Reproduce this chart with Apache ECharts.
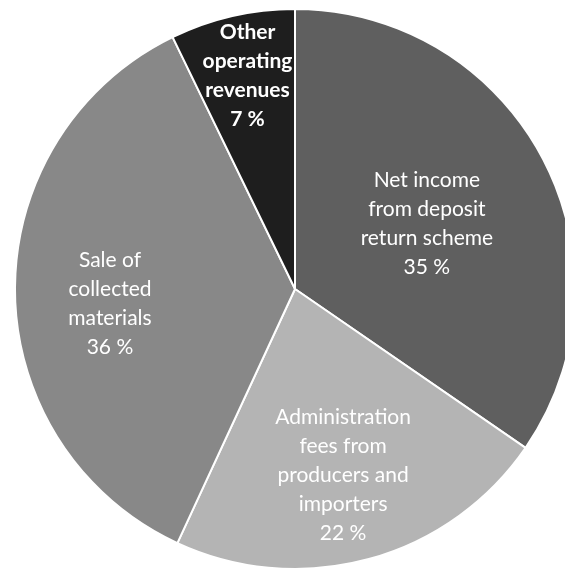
<!DOCTYPE html>
<html>
<head>
<meta charset="utf-8">
<script src="https://cdn.jsdelivr.net/npm/echarts@6/dist/echarts.min.js"></script>
<style>
  html, body { margin: 0; padding: 0; background: #fff; }
  #chart { width: 565px; height: 569px; }
</style>
</head>
<body>
<div id="chart"></div>
<script>
/** revenue split, clockwise from 12 o'clock (slice sizes as drawn, labels rounded) */
const categories = [
  "Net income\nfrom deposit\nreturn scheme",
  "Administration\nfees from\nproducers and\nimporters",
  "Sale of\ncollected\nmaterials",
  "Other\noperating\nrevenues",
];
const shares = [34.6, 22.3, 35.9, 7.2];
const sliceColors = ["#5f5f5f", "#b4b4b4", "#888888", "#1e1e1e"];
const boldLabel = [false, false, false, true];
/** label placement: share of radius, and turn off the slice middle (deg) */
const labelFrac = [0.525, 0.686, 0.663, 0.78];
const labelTurn = [1.5, 0.8, -4.1, 0.4];

const cx = 295, cy = 289, R = 280;

/** mid angle of each slice, measured clockwise from top */
const total = shares.reduce((a, b) => a + b, 0);
let acc = 0;
const midAngle = shares.map((v, i) => {
  const m = ((acc + v / 2) / total) * Math.PI * 2 + (labelTurn[i] * Math.PI) / 180;
  acc += v;
  return m;
});

const chart = echarts.init(document.getElementById("chart"), null, { renderer: "canvas" });

chart.setOption({
  animation: false,
  series: [
    {
      type: "pie",
      center: [cx, cy],
      radius: [0, R],
      startAngle: 90,
      clockwise: true,
      data: categories.map((name, i) => ({
        name,
        value: shares[i],
        itemStyle: { color: sliceColors[i] },
        label: { fontWeight: boldLabel[i] ? "bold" : "normal" },
      })),
      itemStyle: { borderColor: "#ffffff", borderWidth: 2 },
      label: {
        show: true,
        position: "inside",
        formatter: (p) => p.name + "\n" + Math.round(p.value) + " %",
        color: "#ffffff",
        fontFamily: "Lato",
        fontSize: 21,
        lineHeight: 29,
        align: "center",
      },
      labelLine: { show: false },
      labelLayout: (params) => {
        const i = params.dataIndex;
        const r = params.labelRect;
        const t = labelFrac[i] * R;
        const tx = cx + t * Math.sin(midAngle[i]);
        const ty = cy - t * Math.cos(midAngle[i]);
        return {
          dx: tx - (r.x + r.width / 2),
          dy: ty - (r.y + r.height / 2),
        };
      },
      emphasis: { disabled: true },
    },
  ],
});
</script>
</body>
</html>
